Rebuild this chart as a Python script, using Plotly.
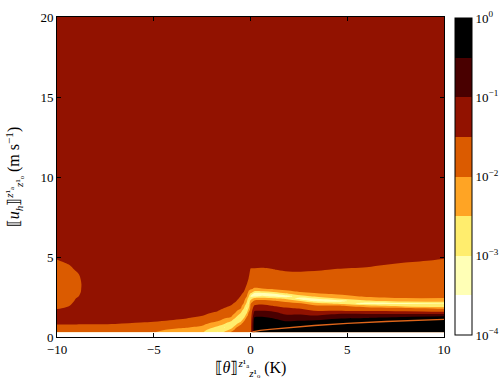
import numpy as np
import plotly.graph_objects as go

# grid: log10 of the plotted quantity
x_vals = [-10, -9.5, -9, -8.5, -7, -5, -3.5, -2.5, -1.7, -1.35, -1.0, -0.75, -0.5, -0.35, -0.2, -0.1, 0,
          0.2, 0.6, 1.2, 1.8, 2.6, 3.3, 4.5, 6, 8, 10]
y_vals = [0.3, 0.45, 0.6, 0.75, 0.9, 1.05, 1.2, 1.35, 1.5, 1.65, 1.8, 1.95, 2.1,
          2.25, 2.4, 2.55, 2.7, 2.85, 3.0, 3.3, 3.6, 3.9, 4.2, 4.5, 4.8, 5.1,
          5.5, 7, 20]

# one list per x column, bottom to top
z_columns = [
    [-1.8, -1.8, -1.75, -1.55, -1.3, -1.25, -1.25, -1.3, -1.35, -1.42, -1.55, -1.62, -1.66, -1.7, -1.72,
     -1.74, -1.75, -1.76, -1.76, -1.77, -1.76, -1.72, -1.66, -1.6, -1.52, -1.4, -1.3, -1.25, -1.2],
    [-1.8, -1.78, -1.72, -1.56, -1.3, -1.25, -1.25, -1.28, -1.33, -1.38, -1.45, -1.55, -1.6, -1.64, -1.67,
     -1.69, -1.7, -1.71, -1.71, -1.71, -1.7, -1.67, -1.62, -1.55, -1.4, -1.32, -1.28, -1.25, -1.2],
    [-1.8, -1.78, -1.72, -1.56, -1.3, -1.25, -1.25, -1.27, -1.3, -1.33, -1.36, -1.39, -1.42, -1.46, -1.49,
     -1.54, -1.57, -1.59, -1.6, -1.61, -1.59, -1.55, -1.47, -1.38, -1.32, -1.28, -1.26, -1.25, -1.2],
    [-1.8, -1.78, -1.72, -1.57, -1.32, -1.26, -1.25, -1.26, -1.28, -1.3, -1.31, -1.32, -1.34, -1.35, -1.37,
     -1.38, -1.39, -1.4, -1.4, -1.4, -1.39, -1.37, -1.33, -1.3, -1.28, -1.27, -1.26, -1.25, -1.2],
    [-1.8, -1.78, -1.72, -1.58, -1.4, -1.28, -1.25, -1.25, -1.25, -1.25, -1.25, -1.25, -1.25, -1.25, -1.25,
     -1.25, -1.25, -1.25, -1.25, -1.25, -1.25, -1.25, -1.25, -1.25, -1.25, -1.25, -1.25, -1.25, -1.2],
    [-1.98, -1.9, -1.8, -1.7, -1.55, -1.4, -1.3, -1.27, -1.25, -1.25, -1.25, -1.25, -1.25, -1.25, -1.25,
     -1.25, -1.25, -1.25, -1.25, -1.25, -1.25, -1.25, -1.25, -1.25, -1.25, -1.25, -1.25, -1.25, -1.2],
    [-2.4, -2.15, -1.95, -1.82, -1.72, -1.58, -1.42, -1.33, -1.28, -1.25, -1.25, -1.25, -1.25, -1.25, -1.25,
     -1.25, -1.25, -1.25, -1.25, -1.25, -1.25, -1.25, -1.25, -1.25, -1.25, -1.25, -1.25, -1.25, -1.2],
    [-2.45, -2.3, -2.1, -1.95, -1.85, -1.75, -1.62, -1.48, -1.38, -1.3, -1.27, -1.25, -1.25, -1.25, -1.25,
     -1.25, -1.25, -1.25, -1.25, -1.25, -1.25, -1.25, -1.25, -1.25, -1.25, -1.25, -1.25, -1.25, -1.2],
    [-3.02, -2.95, -2.65, -2.35, -2.1, -1.92, -1.8, -1.7, -1.6, -1.47, -1.37, -1.3, -1.27, -1.25, -1.25,
     -1.25, -1.25, -1.25, -1.25, -1.25, -1.25, -1.25, -1.25, -1.25, -1.25, -1.25, -1.25, -1.25, -1.2],
    [-2.4, -2.9, -3.02, -2.6, -2.35, -2.1, -1.95, -1.85, -1.75, -1.63, -1.51, -1.4, -1.32, -1.28, -1.25,
     -1.25, -1.25, -1.25, -1.25, -1.25, -1.25, -1.25, -1.25, -1.25, -1.25, -1.25, -1.25, -1.25, -1.2],
    [-1.95, -2.3, -2.75, -3.02, -2.7, -2.35, -2.05, -1.9, -1.8, -1.7, -1.6, -1.52, -1.42, -1.33, -1.28,
     -1.25, -1.25, -1.25, -1.25, -1.25, -1.25, -1.25, -1.25, -1.25, -1.25, -1.25, -1.25, -1.25, -1.2],
    [-1.8, -1.85, -2.02, -2.45, -2.95, -2.95, -2.55, -2.3, -2.05, -1.92, -1.82, -1.72, -1.6, -1.48, -1.38,
     -1.3, -1.27, -1.25, -1.25, -1.25, -1.25, -1.25, -1.25, -1.25, -1.25, -1.25, -1.25, -1.25, -1.2],
    [-1.78, -1.8, -1.85, -1.95, -2.3, -2.8, -3.02, -2.85, -2.52, -2.2, -1.98, -1.9, -1.8, -1.7, -1.6,
     -1.52, -1.42, -1.35, -1.3, -1.25, -1.25, -1.25, -1.25, -1.25, -1.25, -1.25, -1.25, -1.25, -1.2],
    [-1.75, -1.76, -1.78, -1.82, -1.9, -2.1, -2.6, -2.95, -3.02, -2.8, -2.45, -2.2, -2.02, -1.9, -1.8,
     -1.7, -1.6, -1.48, -1.4, -1.3, -1.25, -1.25, -1.25, -1.25, -1.25, -1.25, -1.25, -1.25, -1.2],
    [-1.7, -1.72, -1.74, -1.76, -1.78, -1.82, -1.9, -2.2, -2.6, -2.95, -3.05, -2.95, -2.6, -2.35, -2.15,
     -1.95, -1.83, -1.73, -1.63, -1.48, -1.38, -1.32, -1.28, -1.25, -1.25, -1.25, -1.25, -1.25, -1.2],
    [-1.7, -1.7, -1.71, -1.72, -1.74, -1.76, -1.8, -1.85, -1.95, -2.2, -2.55, -2.9, -3.05, -3.02, -2.75,
     -2.4, -2.2, -2.02, -1.9, -1.75, -1.52, -1.42, -1.35, -1.3, -1.27, -1.25, -1.25, -1.25, -1.2],
    [-1.7, -1.7, -1.7, -1.72, -1.74, -1.76, -1.78, -1.8, -1.82, -1.85, -1.9, -1.95, -2.05, -2.35, -2.85,
     -3.05, -2.6, -2.15, -1.95, -1.8, -1.7, -1.62, -1.53, -1.42, -1.35, -1.3, -1.27, -1.25, -1.2],
    [-0.35, -0.25, -0.2, -0.2, -0.25, -0.3, -0.45, -0.65, -0.85, -1.05, -1.25, -1.45, -1.65, -1.9, -2.3,
     -3.1, -3.2, -2.55, -2.05, -1.85, -1.75, -1.65, -1.54, -1.42, -1.35, -1.3, -1.27, -1.25, -1.2],
    [-0.3, -0.2, -0.15, -0.15, -0.2, -0.25, -0.4, -0.62, -0.82, -1.02, -1.2, -1.4, -1.58, -1.85, -2.25,
     -2.95, -3.3, -2.52, -2.02, -1.83, -1.74, -1.65, -1.55, -1.43, -1.36, -1.3, -1.27, -1.25, -1.2],
    [-0.25, -0.2, -0.15, -0.15, -0.25, -0.35, -0.55, -0.7, -0.9, -1.1, -1.3, -1.52, -1.68, -1.95, -2.4,
     -3.1, -3.02, -2.35, -1.98, -1.83, -1.74, -1.64, -1.51, -1.43, -1.36, -1.3, -1.27, -1.25, -1.2],
    [-0.25, -0.2, -0.2, -0.25, -0.35, -0.6, -0.8, -0.95, -1.1, -1.25, -1.45, -1.65, -1.85, -2.1, -2.6,
     -3.3, -2.6, -2.1, -1.9, -1.78, -1.7, -1.6, -1.46, -1.4, -1.33, -1.3, -1.27, -1.25, -1.2],
    [-0.25, -0.2, -0.2, -0.25, -0.35, -0.55, -0.75, -0.95, -1.1, -1.3, -1.55, -1.75, -1.98, -2.52, -3.25,
     -2.7, -2.15, -1.95, -1.85, -1.75, -1.68, -1.58, -1.45, -1.38, -1.33, -1.3, -1.27, -1.25, -1.2],
    [-0.25, -0.2, -0.2, -0.25, -0.3, -0.52, -0.75, -1.02, -1.3, -1.52, -1.7, -1.9, -2.3, -3.1, -3.02,
     -2.4, -2.05, -1.92, -1.85, -1.75, -1.67, -1.58, -1.47, -1.39, -1.33, -1.3, -1.27, -1.25, -1.2],
    [-0.25, -0.2, -0.2, -0.2, -0.25, -0.35, -0.6, -0.85, -1.1, -1.55, -1.7, -1.95, -2.6, -3.2, -2.52,
     -2.1, -1.95, -1.88, -1.82, -1.74, -1.67, -1.6, -1.52, -1.43, -1.35, -1.3, -1.27, -1.25, -1.2],
    [-0.25, -0.2, -0.2, -0.2, -0.25, -0.3, -0.52, -0.8, -1.15, -1.55, -1.8, -2.3, -3.25, -2.6, -2.1,
     -1.95, -1.9, -1.85, -1.8, -1.74, -1.68, -1.62, -1.55, -1.46, -1.4, -1.33, -1.28, -1.25, -1.2],
    [-0.25, -0.2, -0.2, -0.2, -0.2, -0.25, -0.4, -0.7, -1.2, -1.6, -1.9, -2.7, -3.1, -2.3, -2.02,
     -1.92, -1.88, -1.84, -1.8, -1.75, -1.7, -1.65, -1.6, -1.55, -1.45, -1.36, -1.3, -1.25, -1.2],
    [-0.25, -0.2, -0.2, -0.2, -0.2, -0.25, -0.35, -0.6, -1.3, -1.7, -2.1, -2.9, -3.02, -2.3, -2.02,
     -1.92, -1.88, -1.84, -1.8, -1.76, -1.72, -1.68, -1.64, -1.6, -1.52, -1.45, -1.35, -1.25, -1.2],
]

# thin bright streak inside the dark region
streak_x = [0.1, 0.5, 1, 2, 3.3, 5, 7, 10]
streak_y = [0.32, 0.42, 0.48, 0.6, 0.72, 0.85, 0.97, 1.1]

cbar_vals = [-4, -3, -2, -1, 0]
cbar_text = ['10<sup>−4</sup>', '10<sup>−3</sup>', '10<sup>−2</sup>', '10<sup>−1</sup>', '10<sup>0</sup>']

# afmhot_r, 8 bands
band_colors = ['#ffffff', '#ffffb6', '#ffed6d', '#ffa424', '#db5b00', '#921200', '#490000', '#000000']

z = np.array(z_columns).T

cs = []
edges = [0, 1.5/9, 2.5/9, 3.5/9, 4.5/9, 5.5/9, 6.5/9, 7.5/9, 1]
for k, c in enumerate(band_colors):
    cs.append([edges[k], c])
    cs.append([edges[k + 1], c])

fig = go.Figure()
fig.add_contour(
    x=x_vals, y=y_vals, z=z, zmin=-4, zmax=0, autocontour=False,
    contours=dict(start=-4, end=0, size=0.5, coloring='fill', showlines=False),
    line=dict(width=0), colorscale=cs,
    colorbar=dict(thickness=17, len=0.991, lenmode='fraction', y=0.006, yanchor='bottom',
                  x=1.028, xanchor='left', xpad=0, ypad=0, outlinecolor='black', outlinewidth=1,
                  tickvals=cbar_vals, ticktext=cbar_text, ticks='',
                  tickfont=dict(size=13, color='black')),
)
fig.add_scatter(x=streak_x, y=streak_y, mode='lines', line=dict(color='#e0661a', width=1.3),
                hoverinfo='skip', showlegend=False)

axis_style = dict(ticks='inside', ticklen=4, tickcolor='black', mirror='allticks', showline=True,
                  linecolor='black', linewidth=1, showgrid=False, zeroline=False,
                  tickfont=dict(color='black'))
fig.update_xaxes(range=[-10, 10], tickvals=[-10, -5, 0, 5, 10],
                 title=dict(text='⟦<i>θ</i>⟧<sup><i>z</i>¹ₐ</sup><sub><i>z</i>¹ₒ</sub> (K)', standoff=2),
                 **axis_style)
fig.update_yaxes(range=[0, 20], tickvals=[0, 5, 10, 15, 20],
                 title=dict(text='⟦<i>u<sub>h</sub></i>⟧<sup><i>z</i>¹ₐ</sup><sub><i>z</i>¹ₒ</sub> (m s<sup>−1</sup>)',
                            standoff=16),
                 **axis_style)
fig.update_layout(template='none', width=503, height=383,
                  margin=dict(l=57, r=59, t=17, b=46, autoexpand=False),
                  plot_bgcolor='white', paper_bgcolor='white', showlegend=False,
                  font=dict(family='Liberation Serif', size=13, color='black'))
fig.write_html('out.html', config={'displayModeBar': False},
               post_script="document.body.style.margin='0px';")
